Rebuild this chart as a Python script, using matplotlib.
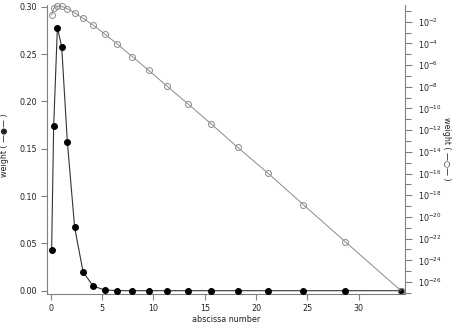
import numpy as np
import matplotlib
matplotlib.use("Agg")
import matplotlib.pyplot as plt
from matplotlib.ticker import FixedLocator, FuncFormatter

# abscissas and weights
abscissa = [0.09, 0.29, 0.65, 1.07, 1.62, 2.33, 3.15, 4.12, 5.25, 6.49,
            7.95, 9.54, 11.32, 13.37, 15.64, 18.2, 21.16, 24.6, 28.7, 34.1]
weight = [0.043, 0.174, 0.278, 0.258, 0.1575, 0.067, 0.020, 0.005, 7.4e-4, 8.7e-5,
          5.9e-6, 3.3e-7, 1.17e-8, 2.6e-10, 3.7e-12, 2.6e-14, 1.07e-16, 1.35e-19, 5.0e-23, 1.6e-27]

x_ticks = [0, 5, 10, 15, 20, 25, 30]
left_ticks = [0.00, 0.05, 0.10, 0.15, 0.20, 0.25, 0.30]
right_exps = list(range(-26, -1, 2))

W, H = 455, 324
fig = plt.figure(figsize=(W / 100, H / 100), dpi=100)
L, R, T, B = 47, 405, 5, 294
ax = fig.add_axes([L / W, 1 - B / H, (R - L) / W, (B - T) / H])

txt = '#222222'
spc = '#808080'
fs = 5.8

# x mapping: 0 -> 50.7px, 10.27 px/unit
x0, sx = 50.7, 10.27
ax.set_xlim((L - x0) / sx, (R - x0) / sx)
# left y mapping: 0 -> 290.7px, 0.05 per 47.3px
y0, sy = 290.7, 47.3 / 0.05
ax.set_ylim(-(B - y0) / sy, (y0 - T) / sy)

ax.plot(abscissa, weight, color='#333333', lw=0.8, marker='o', ms=4.0,
        mfc='black', mec='black', zorder=3, clip_on=False)

ax2 = ax.twinx()
ax2.set_yscale('log')
# right mapping: 1e-2 at 21.7px, 10.846 px/decade
r0, rs = 21.7, 10.846
top_e = -2 + (r0 - T) / rs
bot_e = -2 - (B - r0) / rs
ax2.set_ylim(10 ** bot_e, 10 ** top_e)
ax2.plot(abscissa, weight, color='#8a8a8a', lw=0.7, marker='o', ms=4.3,
         mfc='none', mec='#8a8a8a', mew=0.7, zorder=2, clip_on=False)

for a in (ax, ax2):
    a.spines['top'].set_visible(False)
    for s in a.spines.values():
        s.set_color(spc)
        s.set_linewidth(0.8)
ax.spines['right'].set_visible(False)
ax2.spines['left'].set_visible(False)
ax2.spines['bottom'].set_visible(False)

ax.set_xticks(x_ticks)
ax.set_xticklabels([str(v) for v in x_ticks])
ax.set_yticks(left_ticks)
ax.set_yticklabels(['%.2f' % v for v in left_ticks])
ax.tick_params(axis='both', direction='out', length=4, width=0.8, color=spc,
               labelsize=fs, labelcolor=txt, pad=3)

ax2.yaxis.set_major_locator(FixedLocator([10.0 ** e for e in right_exps]))
ax2.yaxis.set_minor_locator(FixedLocator([10.0 ** e for e in range(-27, 0, 2)]))
ax2.yaxis.set_major_formatter(FuncFormatter(lambda v, p: r'$10^{%d}$' % int(round(np.log10(v)))))
ax2.yaxis.set_minor_formatter(FuncFormatter(lambda v, p: ''))
ax2.tick_params(axis='y', which='major', direction='out', length=5, width=0.8, color=spc,
                labelsize=fs, labelcolor=txt, pad=4)
ax2.tick_params(axis='y', which='minor', direction='out', length=4, width=0.8, color=spc)

ax.set_xlabel('abscissa number', fontsize=fs, color=txt, labelpad=2)
fig.text(5 / W, 1 - 145 / H, 'weight ( \u2014\u25cf\u2014 )', rotation=90, fontsize=fs,
         color=txt, ha='center', va='center')
fig.text(447 / W, 1 - 149 / H, 'weight ( \u2014\u25cb\u2014 )', rotation=270, fontsize=fs,
         color=txt, ha='center', va='center')

fig.savefig('out.png', dpi=100)
